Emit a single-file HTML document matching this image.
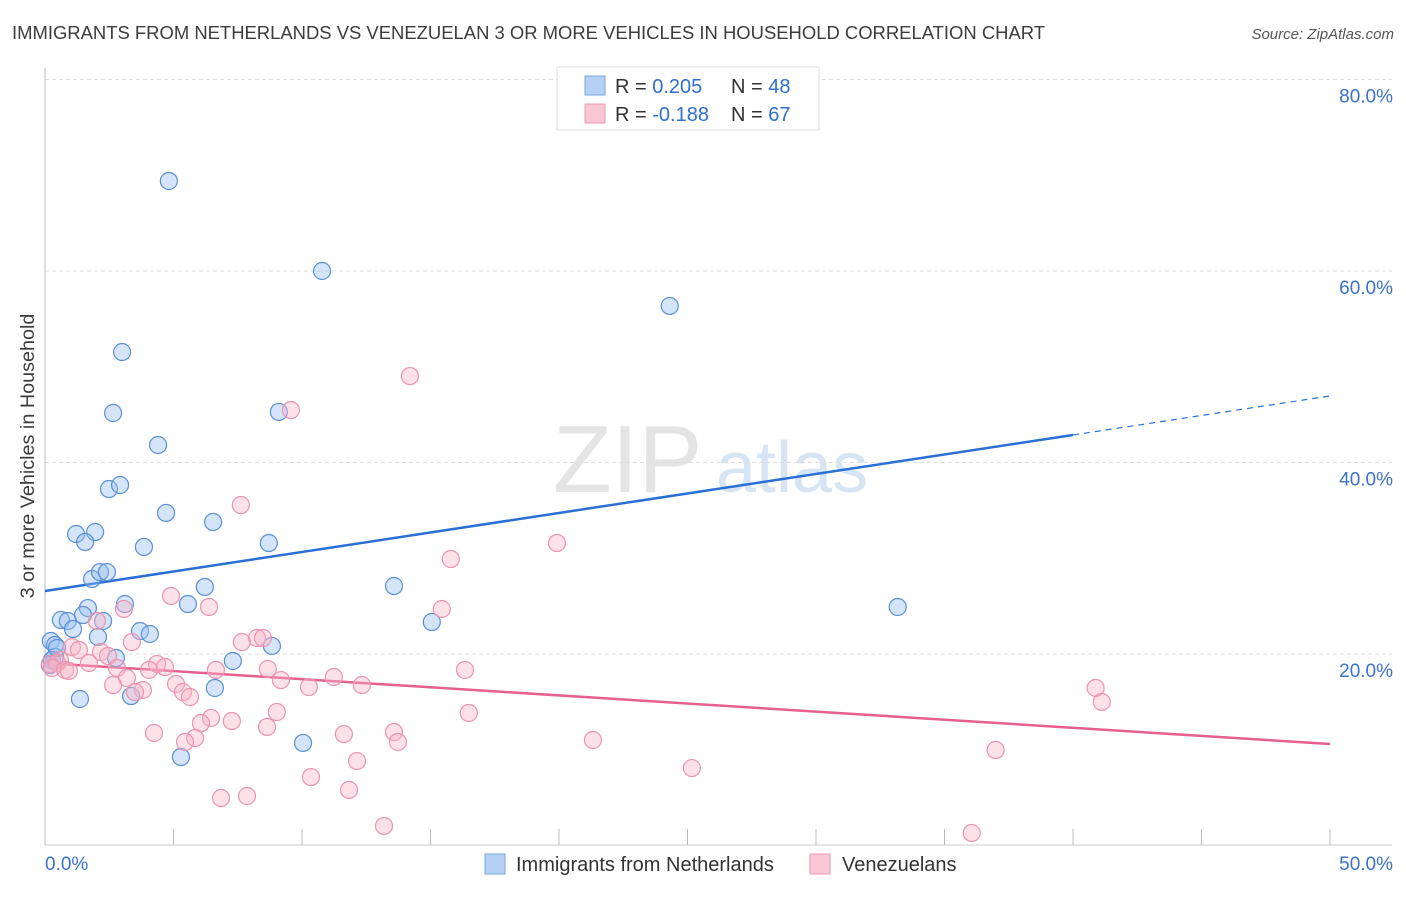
<!DOCTYPE html>
<html><head><meta charset="utf-8"><style>
body{margin:0;background:#fff;font-family:"Liberation Sans",sans-serif}
svg text{font-family:"Liberation Sans",sans-serif}
</style></head><body>
<svg id="chart" width="1406" height="892" viewBox="0 0 1406 892" xmlns="http://www.w3.org/2000/svg">
<text x="12" y="39" font-size="18.45" fill="#3c3c3c">IMMIGRANTS FROM NETHERLANDS VS VENEZUELAN 3 OR MORE VEHICLES IN HOUSEHOLD CORRELATION CHART</text>
<text x="1394" y="39" font-size="15" fill="#555" text-anchor="end" font-style="italic">Source: ZipAtlas.com</text>
<g>
<text x="553" y="492" font-size="96" fill="#e4e4e4" font-family="Liberation Serif,serif">ZIP</text>
<text x="716" y="492" font-size="72" fill="#d6e4f4">atlas</text>
</g>
<g id="grid"></g>
<g id="axes"></g>
<g id="trend"></g>
<g id="pts"></g>
<text transform="translate(34,456) rotate(-90)" font-size="19.8" fill="#3c3c3c" text-anchor="middle">3 or more Vehicles in Household</text>
<g>
<rect x="557" y="67" width="262" height="63" fill="#fff" stroke="#ddd"/>
<rect x="585" y="76" width="20" height="19" fill="#b6d0f4" stroke="#7aa6e0"/>
<rect x="585" y="104" width="20" height="19" fill="#f8c6d4" stroke="#ec9ab2"/>
<text x="615" y="93" font-size="20" fill="#333">R = <tspan fill="#2f6fd0">0.205</tspan><tspan x="731">N = </tspan><tspan fill="#2f6fd0">48</tspan></text>
<text x="615" y="121" font-size="20" fill="#333">R = <tspan fill="#2f6fd0">-0.188</tspan><tspan x="731">N = </tspan><tspan fill="#2f6fd0">67</tspan></text>
</g>
<g>
<rect x="485" y="854" width="20" height="20" fill="#b6d0f4" stroke="#7aa6e0"/>
<text x="516" y="871" font-size="20" fill="#333">Immigrants from Netherlands</text>
<rect x="810" y="854" width="20" height="20" fill="#f8c6d4" stroke="#ec9ab2"/>
<text x="842" y="871" font-size="20" fill="#333">Venezuelans</text>
</g>
</svg>
<script>
const xTicks=[0,5,10,15,20,25,30,35,40,45,50];
const yTicks=[20,40,60,80];
const yTickLabels=["20.0%","40.0%","60.0%","80.0%"];
const xLabels=["0.0%","50.0%"];
const blueX=[4.82,10.78,24.31,3.0,2.65,9.1,4.4,2.49,2.92,4.71,6.54,1.21,1.95,1.56,3.85,8.71,1.83,2.14,2.41,6.22,13.58,3.11,5.56,1.67,0.62,0.89,1.48,1.09,2.26,3.7,4.08,2.06,15.05,33.18,0.23,0.39,8.83,2.76,7.31,0.39,6.61,1.36,3.35,10.04,5.29,0.19,0.27,0.47];
const blueY=[69.4,60.0,56.35,51.54,45.17,45.28,41.83,37.23,37.65,34.73,33.79,32.53,32.74,31.7,31.18,31.59,27.83,28.56,28.56,27.0,27.1,25.22,25.22,24.8,23.55,23.45,24.07,22.61,23.45,22.4,22.09,21.78,23.34,24.91,21.36,20.94,20.84,19.58,19.27,19.69,16.45,15.3,15.61,10.71,9.24,18.85,19.37,20.63];
const pinkX=[14.2,9.57,7.62,15.79,19.92,4.9,6.38,15.44,3.07,2.02,3.38,8.25,8.48,7.66,1.05,1.32,2.18,2.45,0.58,0.19,0.47,1.71,0.27,0.78,0.93,2.8,3.19,4.36,4.67,4.05,6.65,8.67,9.18,11.24,12.33,10.27,16.34,5.1,5.37,5.64,2.65,3.81,3.5,7.27,6.46,6.07,5.84,5.45,4.24,8.64,9.02,11.63,13.58,13.73,16.49,21.32,40.88,41.12,36.99,25.17,10.35,12.14,11.83,6.85,7.86,13.19,36.06];
const pinkY=[49.03,45.48,35.56,29.92,31.59,26.06,24.91,24.7,24.7,23.45,21.25,21.67,21.67,21.25,20.73,20.42,20.21,19.79,19.37,18.96,19.06,19.06,18.54,18.33,18.23,18.54,17.49,18.96,18.64,18.33,18.33,18.44,17.28,17.6,16.76,16.55,18.33,16.87,16.03,15.51,16.76,16.24,16.03,13.0,13.32,12.79,11.23,10.81,11.75,12.38,13.94,11.64,11.85,10.81,13.84,11.02,16.45,14.99,9.97,8.09,7.15,8.82,5.8,4.96,5.17,2.04,1.31];
const blueTrend=[26.58,46.95]; const blueSolidEnd=40;
const pinkTrend=[19.06,10.6];
const NS="http://www.w3.org/2000/svg";
const X=v=>45+v/50*1285, Y=v=>845.5-v/20*191.5;
function mk(tag,attrs,parent){const e=document.createElementNS(NS,tag);for(const k in attrs)e.setAttribute(k,attrs[k]);document.getElementById(parent).appendChild(e);return e;}
yTicks.forEach((t,i)=>{
 const g=mk('line',{x1:45,x2:1392,y1:Y(t),y2:Y(t),stroke:'#ddd','stroke-dasharray':'4,3'},'grid');
 
 
 const l=mk('text',{x:1393,y:Y(t)+23,'font-size':19,fill:'#3a72cc','text-anchor':'end'},'grid');
 l.textContent=yTickLabels[i];
 
 
});
const ax=mk('line',{x1:45,x2:45,y1:68,y2:845,stroke:'#bbb'},'axes');


const bx=mk('line',{x1:45,x2:1392,y1:845,y2:845,stroke:'#ccc'},'axes');


xTicks.forEach(t=>{
 const k=mk('line',{x1:X(t),x2:X(t),y1:829,y2:845,stroke:'#bbb'},'axes');
 
 
});
[[0,'start',45],[50,'end',1393]].forEach((d,i)=>{
 const l=mk('text',{x:d[2],y:870,'font-size':19,fill:'#3a72cc','text-anchor':d[1]},'axes');
 l.textContent=xLabels[i];
 
 
});
const by=v=>blueTrend[0]+(blueTrend[1]-blueTrend[0])*v/50;
const t1=mk('line',{x1:X(0),y1:Y(by(0)),x2:X(blueSolidEnd),y2:Y(by(blueSolidEnd)),stroke:'#2a6fd6','stroke-width':2.5},'trend');


const t2=mk('line',{x1:X(blueSolidEnd),y1:Y(by(blueSolidEnd)),x2:X(50),y2:Y(by(50)),stroke:'#2a6fd6','stroke-width':1.2,'stroke-dasharray':'6,5'},'trend');


const t3=mk('line',{x1:X(0),y1:Y(pinkTrend[0]),x2:X(50),y2:Y(pinkTrend[1]),stroke:'#e5608c','stroke-width':2.5},'trend');


blueX.forEach((v,i)=>{
 const c=mk('circle',{cx:X(v),cy:Y(blueY[i]),r:8.5,fill:'rgba(150,190,240,0.4)',stroke:'#5a8fd8','stroke-width':1.2},'pts');
 
 
});
pinkX.forEach((v,i)=>{
 const c=mk('circle',{cx:X(v),cy:Y(pinkY[i]),r:8.5,fill:'rgba(248,180,200,0.4)',stroke:'#ea94ae','stroke-width':1.2},'pts');
 
 
});
</script>
</body></html>
